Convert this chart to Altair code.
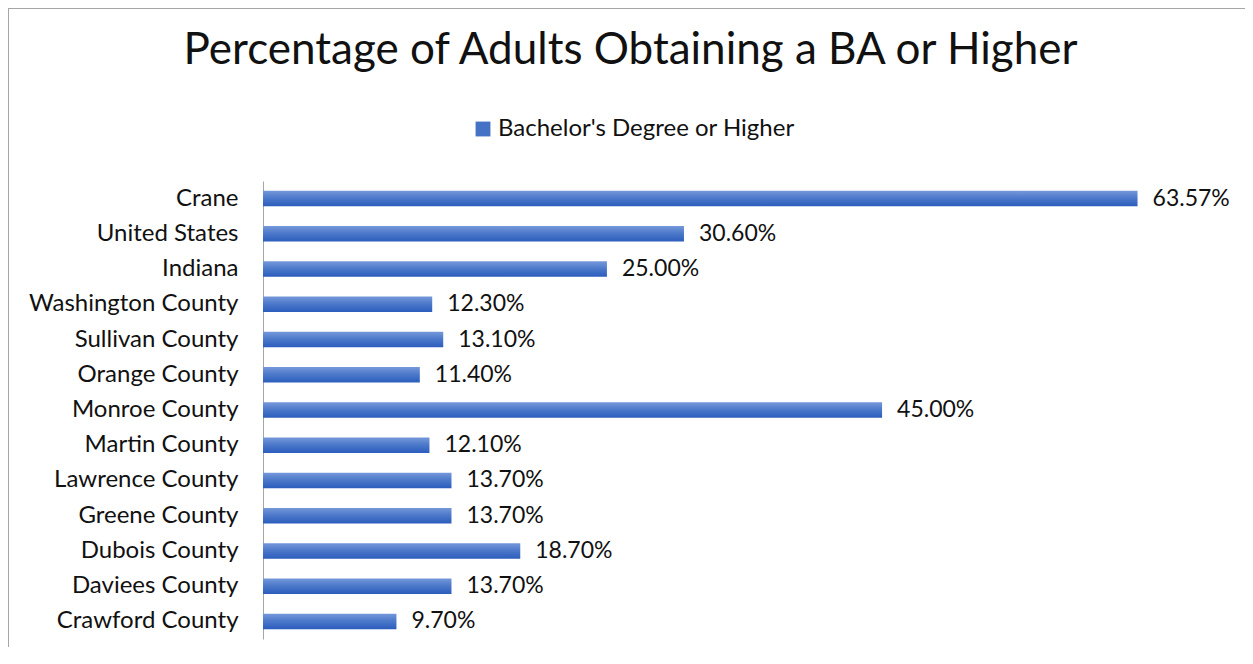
import altair as alt
import pandas as pd

categories = ["Crane", "United States", "Indiana", "Washington County", "Sullivan County",
              "Orange County", "Monroe County", "Martin County", "Lawrence County",
              "Greene County", "Dubois County", "Daviees County", "Crawford County"]
values = [63.57, 30.60, 25.00, 12.30, 13.10, 11.40, 45.00, 12.10, 13.70, 13.70, 18.70, 13.70, 9.70]
series_name = "Bachelor's Degree or Higher"
title_text = "Percentage of Adults Obtaining a BA or Higher"

df = pd.DataFrame({"name": categories, "value": values, "series": [series_name] * len(categories)})

FONT = "Lato"
PLOT_W = 963
PLOT_H = 458

y_enc = alt.Y("name:N", sort=categories, title=None,
              scale=alt.Scale(paddingInner=0.56, paddingOuter=0.28),
              axis=alt.Axis(domainColor="#a6a6a6", domainWidth=1, ticks=False, tickSize=0,
                            labelPadding=25, labelFont=FONT, labelFontSize=24, labelLimit=0,
                            labelColor="#111111", grid=False))
x_enc = alt.X("value:Q", scale=alt.Scale(domain=[0, 70], nice=False), axis=None)

base = alt.Chart(df)

grad = alt.Gradient(gradient="linear",
                    stops=[alt.GradientStop(color="#7598da", offset=0),
                           alt.GradientStop(color="#4a77c9", offset=0.5),
                           alt.GradientStop(color="#2c5dbd", offset=1)],
                    x1=0, x2=0, y1=0, y2=1)

bars = base.mark_bar(color=grad).encode(y=y_enc, x=x_enc)

labels = base.transform_calculate(
    label="format(datum.value, '.2f') + '%'"
).mark_text(align="left", baseline="middle", dx=15, font=FONT, fontSize=23, color="#111111").encode(
    y=y_enc, x=x_enc, text="label:N")

legend_layer = base.mark_square(opacity=0).encode(
    y=y_enc, x=x_enc,
    color=alt.Color("series:N", scale=alt.Scale(range=["#4472C4"]),
                    legend=alt.Legend(orient="none", legendX=208, legendY=-64, title=None,
                                      symbolType="square", symbolSize=220, symbolOpacity=1,
                                      symbolStrokeWidth=0, labelFont=FONT, labelFontSize=24,
                                      labelLimit=0, labelColor="#111111", labelOffset=3,
                                      padding=0)))

border_df = pd.DataFrame({"k": [0]})
border_left = alt.Chart(border_df).mark_rule(color="#a6a6a6", strokeWidth=1).encode(
    x=alt.value(-254.5), y=alt.value(-173), y2=alt.value(PLOT_H + 8))
border_top = alt.Chart(border_df).mark_rule(color="#a6a6a6", strokeWidth=1).encode(
    x=alt.value(-255), x2=alt.value(PLOT_W + 19), y=alt.value(-172.5))

chart = alt.layer(bars, labels, legend_layer, border_left, border_top).properties(
    width=PLOT_W, height=PLOT_H,
    title=alt.Title(text=title_text, font=FONT, fontSize=44, fontWeight="normal",
                    color="#111111", anchor="middle", frame="group", dx=-114,
                    offset=0, baseline="alphabetic", dy=100),
    autosize=alt.AutoSizeParams(type="none"),
    padding={"left": 255, "top": 173, "right": 19, "bottom": 8},
).configure_view(stroke=None)

chart.save("out.html", embed_options={"renderer": "svg", "actions": False})
